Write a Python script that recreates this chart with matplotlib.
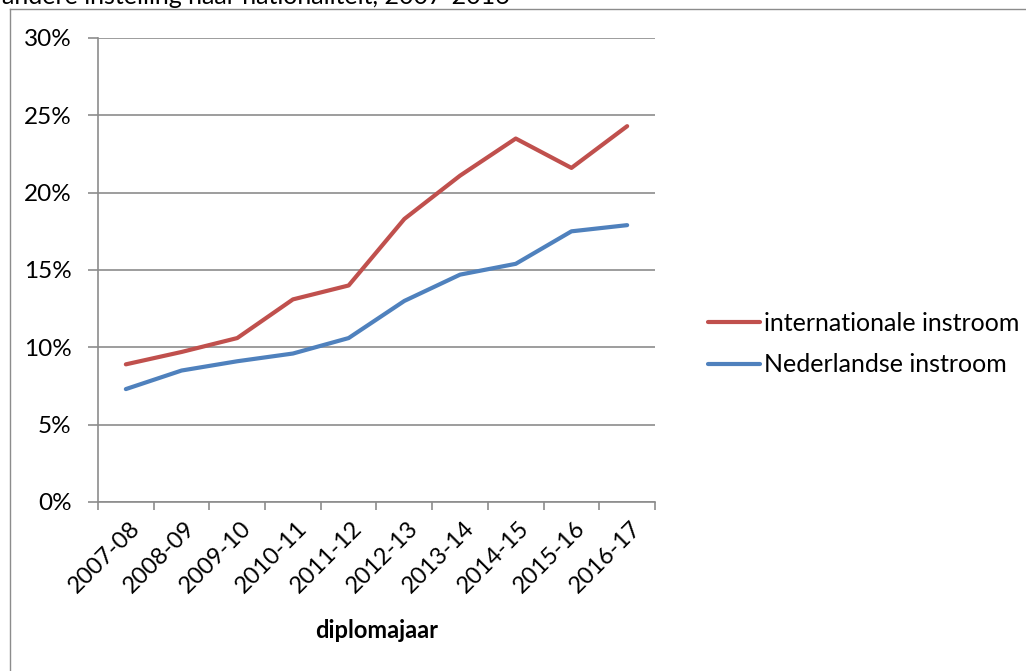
import matplotlib.pyplot as plt
from matplotlib.lines import Line2D
from matplotlib.ticker import FuncFormatter, FixedLocator
from matplotlib.transforms import ScaledTranslation

years = ['2007-08', '2008-09', '2009-10', '2010-11', '2011-12',
         '2012-13', '2013-14', '2014-15', '2015-16', '2016-17']
internationaal = [8.9, 9.7, 10.6, 13.1, 14.0, 18.3, 21.1, 23.5, 21.6, 24.3]
nederlands = [7.3, 8.5, 9.1, 9.6, 10.6, 13.0, 14.7, 15.4, 17.5, 17.9]

plt.rcParams['font.family'] = ['Lato', 'DejaVu Sans']

fig = plt.figure(figsize=(10.26, 6.71), dpi=100)
ax = fig.add_axes([98/1026, 1-502/671, (655-98)/1026, (502-38)/671])

x = range(len(years))
ax.plot(x, internationaal, color='#C0504D', lw=3, solid_capstyle='round',
        label='internationale instroom')
ax.plot(x, nederlands, color='#4F81BD', lw=3, solid_capstyle='round',
        label='Nederlandse instroom')

ax.set_xlim(-0.5, len(years) - 0.5)
ax.set_ylim(0, 30)
ax.set_yticks([0, 5, 10, 15, 20, 25, 30])
ax.yaxis.set_major_formatter(FuncFormatter(lambda v, p: f'{v:.0f}%'))
ax.grid(axis='y', color='#8c8c8c', lw=1.2)
ax.set_axisbelow(True)

# category labels at centres, tick marks at the boundaries
ax.set_xticks(list(x))
ax.set_xticklabels(years, rotation=45, ha='right', rotation_mode='anchor', fontsize=17)
ax.tick_params(axis='x', which='major', length=0, pad=11)
shift = ScaledTranslation(3/100, 0, fig.dpi_scale_trans)
for lab in ax.get_xticklabels():
    lab.set_transform(lab.get_transform() + shift)
ax.xaxis.set_minor_locator(FixedLocator([i - 0.5 for i in range(len(years) + 1)]))
ax.tick_params(axis='x', which='minor', length=6, color='#8c8c8c', width=1.2)
ax.tick_params(axis='y', length=7, color='#8c8c8c', width=1.2, labelsize=17.5, pad=12)

for s in ['top', 'right']:
    ax.spines[s].set_visible(False)
for s in ['left', 'bottom']:
    ax.spines[s].set_color('#8c8c8c')
    ax.spines[s].set_linewidth(1.2)

ax.set_xlabel('diplomajaar', fontsize=17, fontweight='bold', labelpad=16)

fig.legend(loc='center left', bbox_to_anchor=(685/1026, 1-344/671), frameon=False,
           fontsize=18, handlelength=2.1, handletextpad=0.15, labelspacing=0.75)

# cut-off title and chart frame
fig.text(0.002, 1-4/671, 'andere instelling naar nationaliteit, 2007-2016',
         fontsize=18, va='baseline', ha='left')
fig.add_artist(Line2D([10/1026, 1], [1-9/671, 1-9/671], color='#8c8c8c', lw=1))
fig.add_artist(Line2D([10/1026, 10/1026], [0, 1-9/671], color='#8c8c8c', lw=1))

fig.savefig('out.png', dpi=100)
